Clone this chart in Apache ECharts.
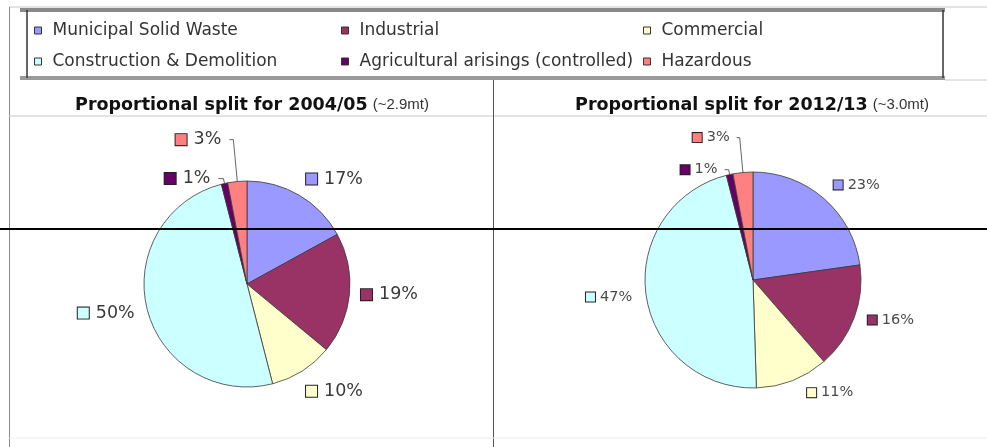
<!DOCTYPE html>
<html>
<head>
<meta charset="utf-8">
<script src="https://cdn.jsdelivr.net/npm/echarts@6/dist/echarts.min.js"></script>
<style>
html,body{margin:0;padding:0;background:#fff;}
#chart{width:987px;height:447px;}
</style>
</head>
<body>
<div id="chart"></div>
<script>
// ---- data ----
const categories = ['Municipal Solid Waste', 'Industrial', 'Commercial', 'Construction & Demolition', 'Agricultural arisings (controlled)', 'Hazardous'];
const split2004 = [17, 19, 10, 50, 1, 3];
const split2012 = [23, 16, 11, 47, 1, 3];
const titleMain = ['Proportional split for 2004/05', 'Proportional split for 2012/13'];
const titleTotal = ['(~2.9mt)', '(~3.0mt)'];
const legendColumns = [[0, 3], [1, 4], [2, 5]];

// ---- styles ----
const colors = ['#9999FF', '#993366', '#FFFFCC', '#CCFFFF', '#660066', '#FF8080'];
// [labelLine length, length2, distanceToLabelLine, show line]
const labelTune1 = [[19, 0, -3, false], [10, 0, 1.5, false], [24, 0, -9, false], [14, 0, -1, false], [5, 5, 8, true], [42, 4, 8, true]];
const labelTune2 = [[18, 0, -2, false], [6, 0, 8, false], [13, 0, 10, false], [14, 0, 0, false], [5, 4, 7, true], [35, 3, 7, true]];

function buildData(values, tune) {
  return values.map((v, i) => ({
    name: categories[i],
    value: v,
    label: { distanceToLabelLine: tune[i][2] },
    labelLine: { show: tune[i][3], length: tune[i][0], length2: tune[i][1] }
  }));
}
function buildRich(sq, fontSize, color, gap) {
  const rich = {};
  colors.forEach((c, i) => {
    rich['s' + i] = { width: sq, height: sq, backgroundColor: c, borderColor: '#222', borderWidth: 1 };
  });
  rich.t = { fontFamily: 'DejaVu Sans', fontSize: fontSize, color: color, padding: [0, 0, 0, gap] };
  return rich;
}
function pieSeries(values, tune, center, radius, rich) {
  return {
    type: 'pie',
    center: center,
    radius: radius,
    startAngle: 90,
    clockwise: true,
    avoidLabelOverlap: false,
    emphasis: { disabled: true },
    itemStyle: { borderColor: '#3a3a3a', borderWidth: 0.8 },
    label: {
      show: true,
      position: 'outside',
      formatter: p => '{s' + p.dataIndex + '|}{t|' + p.value + '%}',
      rich: rich
    },
    labelLine: { lineStyle: { color: '#666', width: 1 } },
    data: buildData(values, tune)
  };
}

const legendLeft = [34, 341, 643];
const legends = legendColumns.map((col, k) => ({
  data: col.map(i => categories[i]),
  orient: 'vertical',
  left: legendLeft[k],
  top: 22,
  padding: 0,
  itemGap: 14,
  itemWidth: 7,
  itemHeight: 7,
  icon: 'rect',
  selectedMode: false,
  itemStyle: { borderColor: '#333', borderWidth: 1 },
  formatter: '{n|{name}}',
  textStyle: {
    rich: { n: { fontFamily: 'DejaVu Sans', fontSize: 17, color: '#333', lineHeight: 20, padding: [0, 0, 0, 6] } }
  }
}));

const titleCenters = [252, 752];
const titles = titleMain.map((t, k) => ({
  text: '{b|' + t + '} {n|' + titleTotal[k] + '}',
  left: titleCenters[k],
  top: 105,
  padding: 0,
  textAlign: 'center',
  textVerticalAlign: 'middle',
  textStyle: {
    rich: {
      b: { fontFamily: 'DejaVu Sans', fontWeight: 'bold', fontSize: 17.5, color: '#111' },
      n: { fontFamily: "'Liberation Sans', Arial", fontWeight: 'normal', fontSize: 15, color: '#333' }
    }
  }
}));

const rules = [
  [9, 7, 987, 7, '#c8c8c8', 1, 1],
  [20, 10, 945, 10, '#8a8a8a', 4, 1],
  [20, 78, 945, 78, '#9a9a9a', 4, 1],
  [945, 80, 987, 80, '#c8c8c8', 1, 1],
  [27, 10, 27, 78, '#333', 1.5, 2],
  [943, 10, 943, 78, '#333', 1.5, 2],
  [9.5, 7, 9.5, 447, '#888', 1, 1],
  [9, 116, 987, 116, '#c8c8c8', 1, 1],
  [493.5, 80, 493.5, 447, '#555', 1, 1],
  [9, 438, 987, 438, '#ececec', 1, 1],
  [0, 229, 987, 229, '#000', 2, 100]
];
const graphicEls = rules.map(r => ({
  type: 'line',
  z: r[6],
  silent: true,
  shape: { x1: r[0], y1: r[1], x2: r[2], y2: r[3] },
  style: { stroke: r[4], lineWidth: r[5] }
}));

const chart = echarts.init(document.getElementById('chart'), null, { renderer: 'canvas' });
chart.setOption({
  backgroundColor: '#fff',
  animation: false,
  color: colors,
  title: titles,
  legend: legends,
  graphic: { elements: graphicEls },
  series: [
    pieSeries(split2004, labelTune1, [247, 284], 103, buildRich(11, 17.5, '#3a3a3a', 7)),
    pieSeries(split2012, labelTune2, [753, 280], 108, buildRich(9, 14.5, '#4a4a4a', 5))
  ]
});
</script>
</body>
</html>
